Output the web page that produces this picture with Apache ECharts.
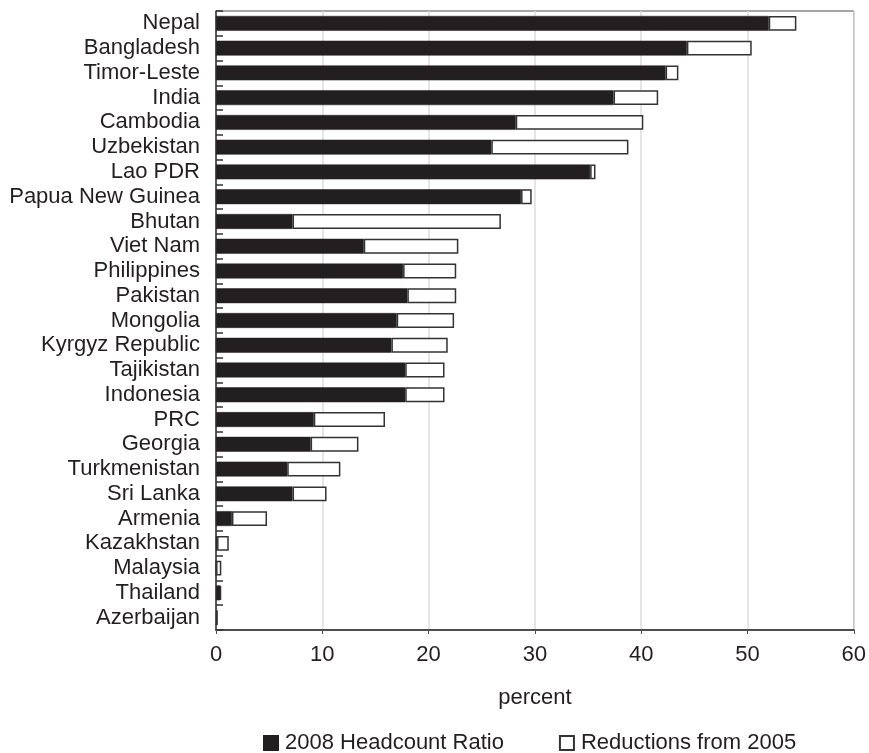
<!DOCTYPE html>
<html>
<head>
<meta charset="utf-8">
<style>
  html, body { margin: 0; padding: 0; background: #ffffff; }
  #chart { width: 869px; height: 753px; }
</style>
<script src="https://cdn.jsdelivr.net/npm/echarts@6/dist/echarts.min.js"></script>
</head>
<body>
<div id="chart"></div>
<script>
const categories = ["Nepal", "Bangladesh", "Timor-Leste", "India", "Cambodia", "Uzbekistan", "Lao PDR",
  "Papua New Guinea", "Bhutan", "Viet Nam", "Philippines", "Pakistan", "Mongolia", "Kyrgyz Republic",
  "Tajikistan", "Indonesia", "PRC", "Georgia", "Turkmenistan", "Sri Lanka", "Armenia", "Kazakhstan",
  "Malaysia", "Thailand", "Azerbaijan"];
const headcount2008 = [52.0, 44.3, 42.3, 37.4, 28.2, 25.9, 35.2, 28.7, 7.2, 13.9, 17.6, 18.0, 17.0, 16.5,
  17.8, 17.8, 9.2, 8.9, 6.7, 7.2, 1.5, 0.1, 0.0, 0.4, 0.1];
const reductions2005 = [2.6, 6.1, 1.2, 4.2, 12.0, 12.9, 0.5, 1.0, 19.6, 8.9, 5.0, 4.6, 5.4, 5.3,
  3.7, 3.7, 6.7, 4.5, 5.0, 3.2, 3.3, 1.1, 0.5, 0.05, 0.0];
const xTicks = [0, 10, 20, 30, 40, 50, 60];
const seriesNames = ["2008 Headcount Ratio", "Reductions from 2005"];
const axisName = "percent";

const FONT = "'Liberation Sans', Arial, sans-serif";
const TXT = "#231f20";

const chart = echarts.init(document.getElementById('chart'), null, { renderer: 'canvas' });
chart.setOption({
  animation: false,
  backgroundColor: '#ffffff',
  textStyle: { fontFamily: FONT, color: TXT },
  grid: {
    left: 216, right: 11, top: 11, bottom: 123,
    show: true, borderColor: '#4d4d4d', borderWidth: 1, backgroundColor: 'transparent',
    containLabel: false
  },
  legend: {
    left: 258, top: 727,
    itemWidth: 14, itemHeight: 14, itemGap: 55,
    icon: 'rect',
    textStyle: { fontFamily: FONT, fontSize: 22, color: TXT, padding: [0, 0, 0, 2] },
    data: seriesNames
  },
  xAxis: {
    type: 'value',
    min: xTicks[0], max: xTicks[xTicks.length - 1], interval: 10,
    name: axisName, nameLocation: 'middle', nameGap: 57,
    nameTextStyle: { fontFamily: FONT, fontSize: 22, color: TXT },
    axisLine: { show: true, lineStyle: { color: '#4d4d4d', width: 2 } },
    axisTick: { show: true, length: 4, lineStyle: { color: '#4d4d4d', width: 1 } },
    axisLabel: { fontFamily: FONT, fontSize: 22, color: TXT, margin: 14 },
    splitLine: { show: true, lineStyle: { color: '#dcdcdc', width: 1.5 } }
  },
  yAxis: {
    type: 'category',
    data: categories,
    inverse: true,
    axisLine: { show: true, lineStyle: { color: '#333333', width: 1.5 } },
    axisTick: { show: true, inside: true, length: 7, interval: 0, lineStyle: { color: '#333333', width: 1.5 } },
    axisLabel: { fontFamily: FONT, fontSize: 22, color: TXT, margin: 16, interval: 0 },
    splitLine: { show: false }
  },
  series: [
    {
      name: seriesNames[0], type: 'bar', stack: 'total',
      data: headcount2008,
      barCategoryGap: '40%',
      itemStyle: { color: '#231f20', borderColor: '#231f20', borderWidth: 0.5 }
    },
    {
      name: seriesNames[1], type: 'bar', stack: 'total',
      data: reductions2005,
      barCategoryGap: '40%',
      itemStyle: { color: '#ffffff', borderColor: '#333333', borderWidth: 1.5 }
    }
  ]
});
</script>
</body>
</html>
